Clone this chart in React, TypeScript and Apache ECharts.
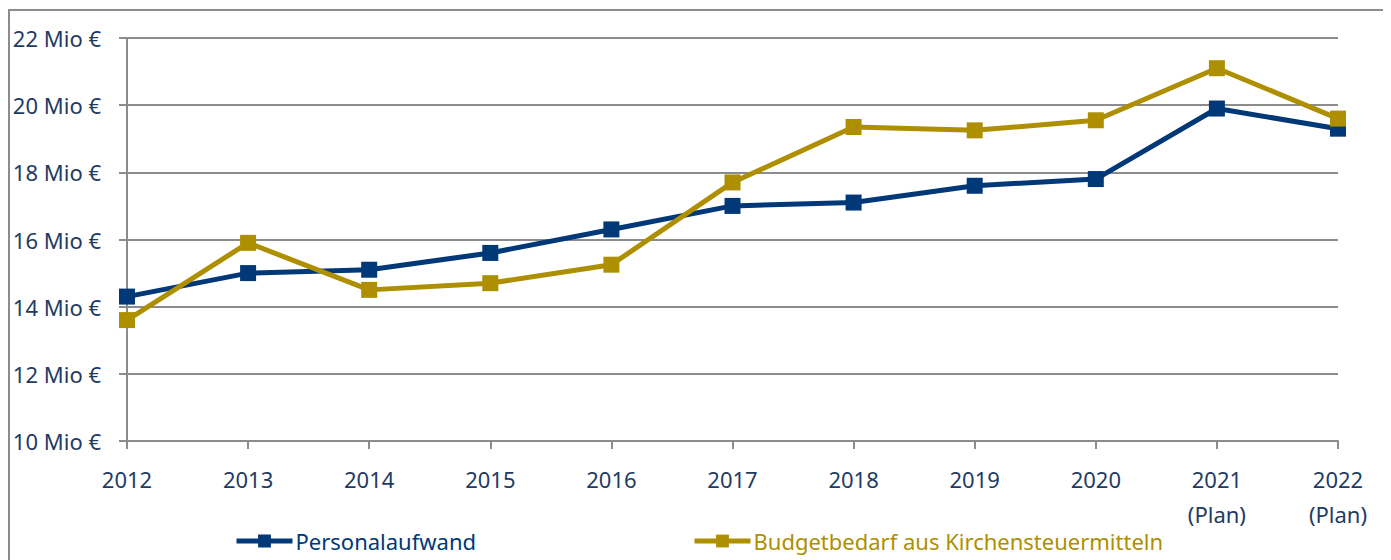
import React, { useEffect, useRef } from "react";
import * as echarts from "echarts";

const categories = ["2012", "2013", "2014", "2015", "2016", "2017", "2018", "2019", "2020", "2021\n(Plan)", "2022\n(Plan)"];
const personalaufwand = [14.3, 15.0, 15.1, 15.6, 16.3, 17.0, 17.1, 17.6, 17.8, 19.9, 19.3];
const budgetbedarf = [13.6, 15.9, 14.5, 14.7, 15.25, 17.7, 19.35, 19.25, 19.55, 21.1, 19.6];
const seriesNames = ["Personalaufwand", "Budgetbedarf aus Kirchensteuermitteln"];
const colors = ["#003878", "#AD8F00"];
const textColor = "#1F3B63";
const fontFamily = "'Noto Sans', sans-serif";

export default function App() {
  const ref = useRef<HTMLDivElement>(null);
  useEffect(() => {
    const chart = echarts.init(ref.current!, null, { renderer: "svg" });
    const legendBase = {
      orient: "horizontal",
      top: 522,
      padding: 0,
      itemWidth: 56,
      itemHeight: 16,
      itemGap: 0,
      textStyle: { fontSize: 22, fontFamily, padding: [0, 0, 0, -2] },
      lineStyle: { width: 5 },
    };
    chart.setOption({
      animation: false,
      backgroundColor: "#fff",
      grid: { left: 119, right: 53, top: 30, bottom: 119, containLabel: false },
      graphic: [
        {
          type: "rect",
          shape: { x: 1, y: 2, width: 1379, height: 560 },
          style: { fill: "none", stroke: "#8c8c8c", lineWidth: 2 },
          silent: true,
        },
      ],
      legend: [
        {
          ...legendBase,
          left: 226,
          data: [{ name: seriesNames[0], textStyle: { color: colors[0] } }],
        },
        {
          ...legendBase,
          left: 684,
          data: [{ name: seriesNames[1], textStyle: { color: colors[1] } }],
        },
      ],
      xAxis: {
        type: "category",
        data: categories,
        boundaryGap: false,
        axisLine: { lineStyle: { color: "#8c8c8c", width: 2 } },
        axisTick: { show: true, length: 8, alignWithLabel: true, lineStyle: { color: "#8c8c8c", width: 2 } },
        axisLabel: {
          color: textColor,
          fontSize: 22,
          fontFamily,
          margin: 20,
          lineHeight: 35,
        },
      },
      yAxis: {
        type: "value",
        min: 10,
        max: 22,
        interval: 2,
        axisLine: { show: true, lineStyle: { color: "#8c8c8c", width: 2 } },
        axisTick: { show: true, length: 8, lineStyle: { color: "#8c8c8c", width: 2 } },
        splitLine: { lineStyle: { color: "#8c8c8c", width: 2 } },
        axisLabel: {
          color: textColor,
          fontSize: 22,
          fontFamily,
          margin: 26,
          formatter: (v: number) => `${v} Mio €`,
        },
      },
      series: [
        {
          name: seriesNames[0],
          type: "line",
          data: personalaufwand,
          color: colors[0],
          lineStyle: { width: 5, color: colors[0] },
          symbol: "rect",
          symbolSize: 16,
          itemStyle: { color: colors[0] },
        },
        {
          name: seriesNames[1],
          type: "line",
          data: budgetbedarf,
          color: colors[1],
          lineStyle: { width: 5, color: colors[1] },
          symbol: "rect",
          symbolSize: 16,
          itemStyle: { color: colors[1] },
        },
      ],
    });
    return () => chart.dispose();
  }, []);
  return <div ref={ref} style={{ width: 1383, height: 552 }} />;
}
